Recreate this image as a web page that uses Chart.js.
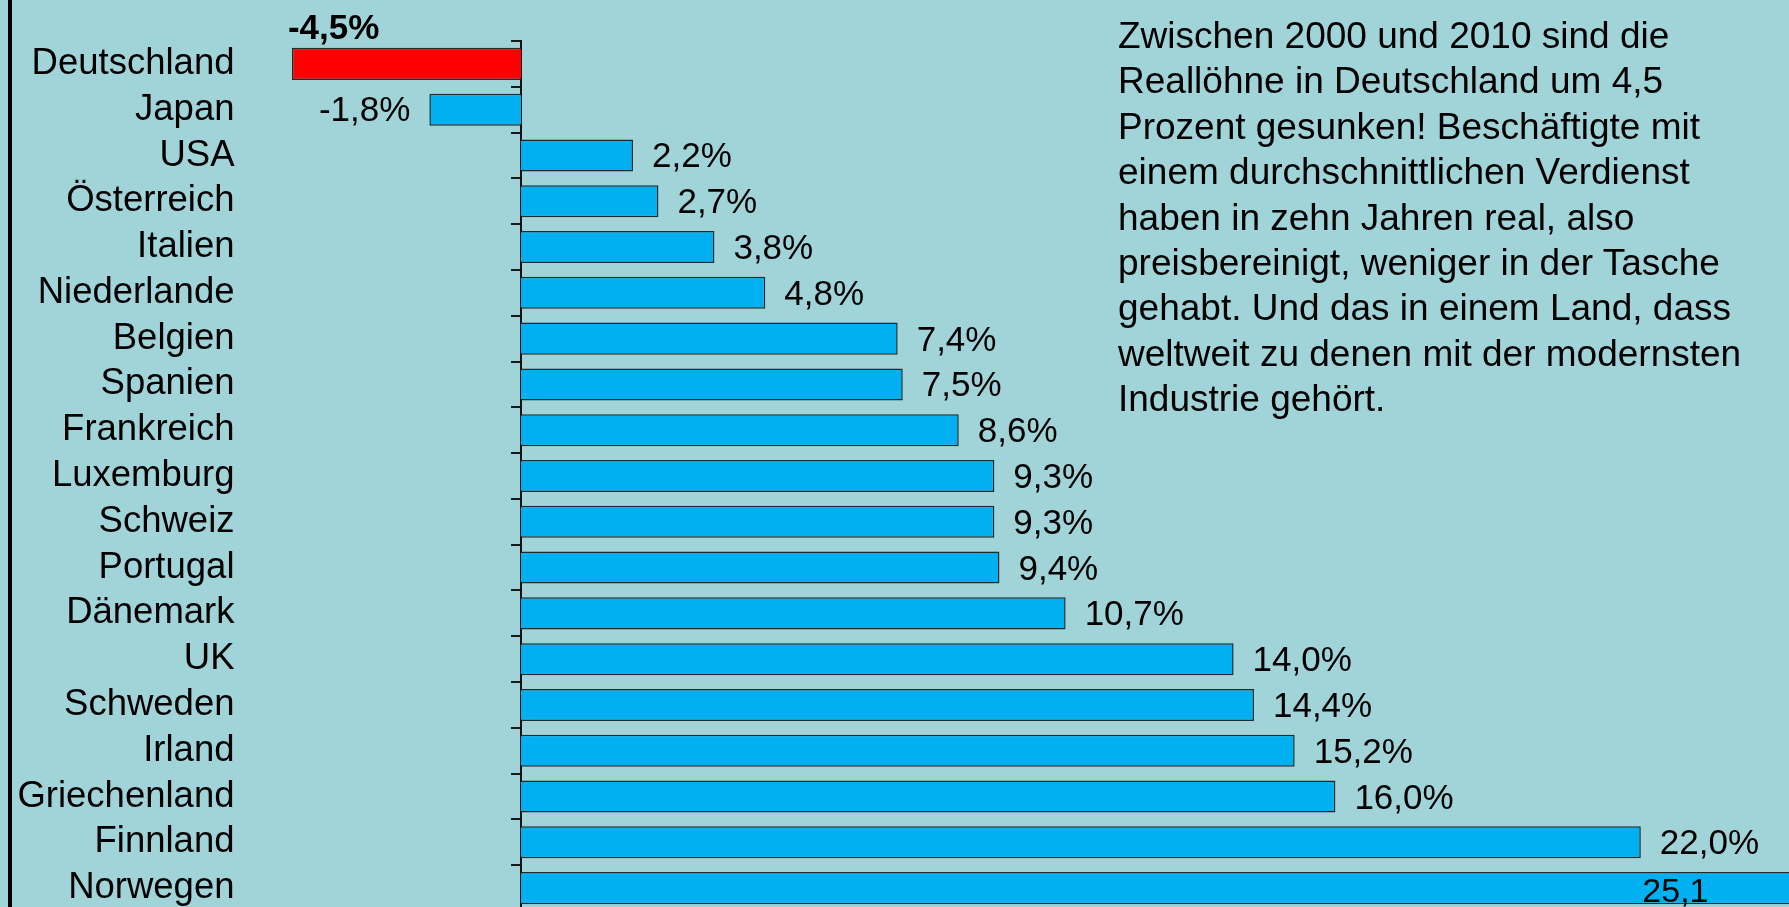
<!DOCTYPE html>
<html>
<head>
<meta charset="utf-8">
<script src="https://cdn.jsdelivr.net/npm/chart.js@4.4.1/dist/chart.umd.min.js"></script>
<style>
  html, body { margin:0; padding:0; overflow:hidden; background:#A1D4D8; width:1789px; height:907px; }
  #chart { position:absolute; left:0; top:0; }
  #frame { position:absolute; left:8px; top:0; width:4px; height:907px; background:#000; }
  #note { position:absolute; left:1118px; top:13px; font-family:"Liberation Sans", Arial, sans-serif;
          font-size:37px; line-height:45.4px; color:#000; white-space:nowrap; }
</style>
</head>
<body>
<canvas id="chart" width="1800" height="920" style="width:1800px;height:920px;"></canvas>
<div id="frame"></div>
<div id="note">Zwischen 2000 und 2010 sind die<br>Reallöhne in Deutschland um 4,5<br>Prozent gesunken! Beschäftigte mit<br>einem durchschnittlichen Verdienst<br>haben in zehn Jahren real, also<br>preisbereinigt, weniger in der Tasche<br>gehabt. Und das in einem Land, dass<br>weltweit zu denen mit der modernsten<br>Industrie gehört.</div>
<script>
// ---- data ----
const countries = ['Deutschland','Japan','USA','Österreich','Italien','Niederlande','Belgien','Spanien',
  'Frankreich','Luxemburg','Schweiz','Portugal','Dänemark','UK','Schweden','Irland','Griechenland','Finnland','Norwegen'];
const realWageChange = [-4.5,-1.8,2.2,2.7,3.8,4.8,7.4,7.5,8.6,9.3,9.3,9.4,10.7,14.0,14.4,15.2,16.0,22.0,25.1];
const valueLabels = ['-4,5%','-1,8%','2,2%','2,7%','3,8%','4,8%','7,4%','7,5%','8,6%','9,3%','9,3%','9,4%',
  '10,7%','14,0%','14,4%','15,2%','16,0%','22,0%','25,1'];
const highlightCountry = 'Deutschland';

const FONT = '"Liberation Sans", Arial, sans-serif';
const BLUE = '#00B0F0', RED = '#FF0000';

const barColors = countries.map(c => c === highlightCountry ? RED : BLUE);

const valueLabelPlugin = {
  id: 'valueLabels',
  afterDatasetsDraw(chart) {
    const ctx = chart.ctx;
    const meta = chart.getDatasetMeta(0);
    const area = chart.chartArea;
    ctx.save();
    ctx.fillStyle = '#000';
    ctx.textBaseline = 'alphabetic';
    meta.data.forEach((bar, i) => {
      const v = realWageChange[i];
      const txt = valueLabels[i];
      if (countries[i] === highlightCountry) {
        ctx.font = 'bold 35px ' + FONT;
        ctx.textAlign = 'left';
        ctx.fillText(txt, bar.x - 4, bar.y - bar.height / 2 - 9);
      } else if (v < 0) {
        ctx.font = '35px ' + FONT;
        ctx.textAlign = 'right';
        ctx.fillText(txt, bar.x - 19, bar.y + 11);
      } else if (bar.x > area.right) {
        ctx.font = '34px ' + FONT;
        ctx.textAlign = 'right';
        ctx.fillText(txt, area.right - 85, bar.y + 14);
      } else {
        ctx.font = '35px ' + FONT;
        ctx.textAlign = 'left';
        ctx.fillText(txt, bar.x + 19, bar.y + 12);
      }
    });
    ctx.restore();
  }
};

const chart = new Chart(document.getElementById('chart'), {
  type: 'bar',
  data: {
    labels: countries,
    datasets: [{
      data: realWageChange,
      backgroundColor: barColors,
      borderColor: '#1E2A2C',
      borderWidth: 1.5,
      barPercentage: 0.7,
      categoryPercentage: 1.0
    }]
  },
  options: {
    indexAxis: 'y',
    responsive: false,
    animation: false,
    devicePixelRatio: 1,
    layout: { padding: { left: 0, right: 6.5, top: 41, bottom: 9 } },
    plugins: { legend: { display: false }, tooltip: { enabled: false } },
    scales: {
      x: { type: 'linear', min: -5, max: 25, display: false },
      y: {
        type: 'category',
        position: 'left',
        grid: { display: false, drawTicks: false },
        border: { display: false },
        ticks: { color: '#000', font: { family: FONT, size: 36.5 }, padding: 32, autoSkip: false },
        afterFit(scale) { scale.width = 266.5; scale.paddingTop = 0; scale.paddingBottom = 0; }
      },
      yZero: {
        type: 'category',
        axis: 'y',
        position: { x: 0 },
        offset: true,
        grid: { offset: true, drawOnChartArea: false, drawTicks: true, tickLength: 9, color: '#1a1a1a', lineWidth: 2 },
        border: { display: true, color: '#111', width: 2 },
        ticks: { display: false },
        afterFit(scale) { scale.paddingTop = 0; scale.paddingBottom = 0; }
      }
    }
  },
  plugins: [valueLabelPlugin]
});
</script>
</body>
</html>
